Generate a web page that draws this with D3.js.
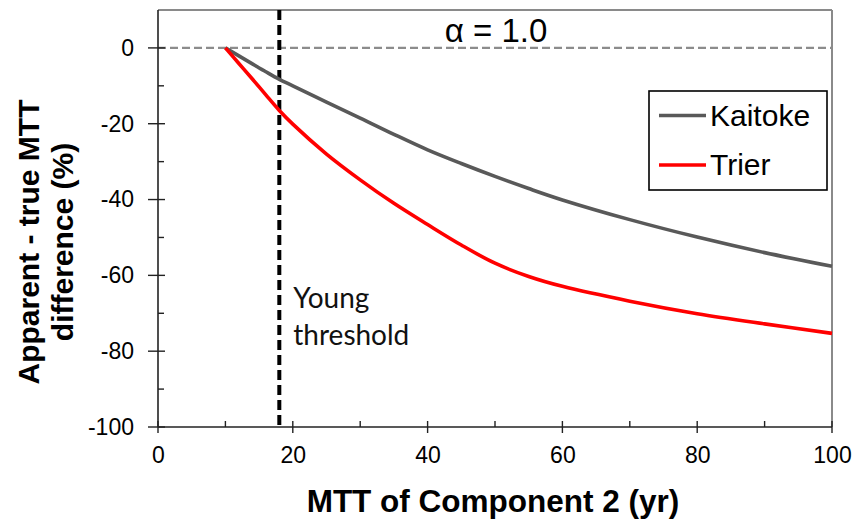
<!DOCTYPE html>
<html><head><meta charset="utf-8">
<script src="https://cdn.jsdelivr.net/npm/d3@7"></script>
<style>
html,body{margin:0;padding:0;background:#fff;}
svg{display:block;}
text{font-family:"Liberation Sans",Arial,sans-serif;}
</style></head>
<body><svg id="c" width="857" height="521"></svg>
<script>
// ---- data ----
const mttX = [10,12,14,16,18,20,25,30,35,40,45,50,55,60,70,80,90,100];
const kaitoke = [0,-2.1,-4.2,-6.3,-8.3,-10.0,-14.3,-18.5,-22.8,-26.9,-30.5,-33.9,-37.1,-40.1,-45.3,-49.9,-54.0,-57.6];
const trier = [0,-4.1,-8.2,-12.4,-16.5,-20.1,-28.0,-34.8,-41.0,-46.6,-52.0,-56.8,-60.3,-62.9,-66.8,-70.1,-72.8,-75.3];
const seriesNames = ["Kaitoke","Trier"];
const xTicks = [0,20,40,60,80,100];
const xMinor = [10,30,50,70,90];
const yTicks = [0,-20,-40,-60,-80,-100];
const yMinor = [-10,-30,-50,-70,-90];
const youngThreshold = 18;
const alphaLabel = "α = 1.0";

const svg = d3.select("#c");
const L=158, R=832, T=10, B=427;
const x = d3.scaleLinear().domain([0,100]).range([L,R]);
const y = d3.scaleLinear().domain([-100,10]).range([B,T]);

// frame top/right
svg.append("line").attr("x1",L).attr("x2",R).attr("y1",T).attr("y2",T).attr("stroke","#8a8a8a").attr("stroke-width",2);
svg.append("line").attr("x1",R).attr("x2",R).attr("y1",T).attr("y2",B).attr("stroke","#8a8a8a").attr("stroke-width",2);

// zero dashed line
svg.append("line").attr("x1",L).attr("x2",R).attr("y1",y(0)).attr("y2",y(0))
  .attr("stroke","#8c8c8c").attr("stroke-width",2.2).attr("stroke-dasharray","8,4");

const fmt = d => String(d);

// y axis
const yAx = svg.append("g").attr("transform",`translate(${L},0)`)
  .call(d3.axisLeft(y).tickValues(yTicks).tickSize(0).tickPadding(24).tickFormat(fmt));
yAx.select(".domain").remove();
yAx.selectAll("text").attr("font-size",23).attr("fill","#000");
svg.append("line").attr("x1",L).attr("x2",L).attr("y1",T).attr("y2",B).attr("stroke","#222").attr("stroke-width",1.6);
svg.selectAll(".ymaj").data(yTicks).enter().append("line")
  .attr("x1",L-10).attr("x2",L+7).attr("y1",d=>y(d)).attr("y2",d=>y(d)).attr("stroke","#222").attr("stroke-width",1.4);
svg.selectAll(".ymin").data(yMinor).enter().append("line")
  .attr("x1",L).attr("x2",L+6).attr("y1",d=>y(d)).attr("y2",d=>y(d)).attr("stroke","#222").attr("stroke-width",1.4);

// x axis
const xAx = svg.append("g").attr("transform",`translate(0,${B})`)
  .call(d3.axisBottom(x).tickValues(xTicks).tickSize(0).tickPadding(20).tickFormat(fmt));
xAx.select(".domain").remove();
xAx.selectAll("text").attr("font-size",23).attr("fill","#000");
svg.append("line").attr("x1",L).attr("x2",R).attr("y1",B).attr("y2",B).attr("stroke","#222").attr("stroke-width",1.6);
svg.selectAll(".xmaj").data(xTicks).enter().append("line")
  .attr("x1",d=>x(d)).attr("x2",d=>x(d)).attr("y1",B-6).attr("y2",B+6).attr("stroke","#222").attr("stroke-width",1.4);
svg.selectAll(".xmin").data(xMinor).enter().append("line")
  .attr("x1",d=>x(d)).attr("x2",d=>x(d)).attr("y1",B-6).attr("y2",B).attr("stroke","#222").attr("stroke-width",1.4);

// threshold line
svg.append("line").attr("x1",x(youngThreshold)).attr("x2",x(youngThreshold)).attr("y1",T).attr("y2",B)
  .attr("stroke","#000").attr("stroke-width",4).attr("stroke-dasharray","10,5");
const yt = svg.append("text").style("font-family","Lato, 'Open Sans', sans-serif").attr("font-size",28).attr("fill","#111");
yt.append("tspan").attr("x",x(youngThreshold)+14).attr("y",308).text("Young");
yt.append("tspan").attr("x",x(youngThreshold)+14).attr("y",345).text("threshold");

// curves
const colors = ["#595959","#ff0000"];
const line = d3.line().x(d=>x(d[0])).y(d=>y(d[1])).curve(d3.curveCatmullRom.alpha(0.5));
[kaitoke,trier].forEach((vals,i)=>{
  svg.append("path").datum(mttX.map((m,j)=>[m,vals[j]]))
    .attr("d",line).attr("fill","none").attr("stroke",colors[i]).attr("stroke-width",3.6)
    .attr("stroke-linejoin","round");
});

// alpha label
svg.append("text").attr("x",496).attr("y",42).attr("text-anchor","middle").attr("font-size",33).attr("fill","#000").text(alphaLabel);

// legend
const lg = svg.append("g");
lg.append("rect").attr("x",649).attr("y",91).attr("width",178).attr("height",99)
  .attr("fill","#fff").attr("stroke","#000").attr("stroke-width",1.6);
seriesNames.forEach((n,i)=>{
  const cy = 115.5 + i*49.5;
  lg.append("line").attr("x1",659).attr("x2",706).attr("y1",cy).attr("y2",cy).attr("stroke",colors[i]).attr("stroke-width",3.6);
  lg.append("text").attr("x",710).attr("y",cy+10).attr("font-size",30).attr("fill","#000").text(n);
});

// axis titles
svg.append("text").attr("x",493).attr("y",512).attr("text-anchor","middle").attr("font-size",31.5).attr("font-weight","bold").text("MTT of Component 2 (yr)");
const yt2 = svg.append("text").attr("transform","translate(0,242) rotate(-90)").attr("text-anchor","middle").attr("font-size",30).attr("font-weight","bold");
yt2.append("tspan").attr("x",0).attr("y",39).text("Apparent - true MTT");
yt2.append("tspan").attr("x",0).attr("y",73).text("difference (%)");
</script></body></html>
